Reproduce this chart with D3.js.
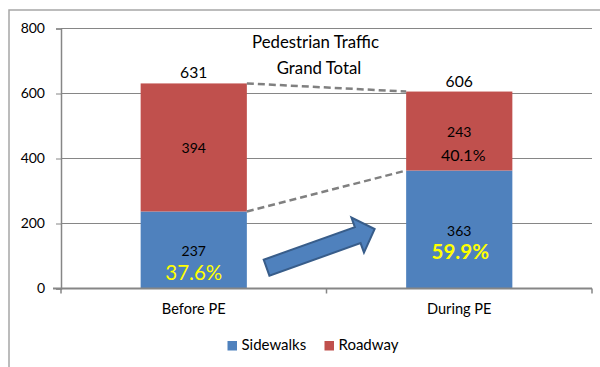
<!DOCTYPE html>
<html>
<head>
<meta charset="utf-8">
<script src="https://cdn.jsdelivr.net/npm/d3@7"></script>
<style>
  html, body { margin: 0; padding: 0; background: #fff; }
  svg { display: block; font-family: Lato, "Open Sans", sans-serif; }
</style>
</head>
<body>
<svg id="chart" width="600" height="367"></svg>
<script>
// Pedestrian counts, before and during PE
const categories = ["Before PE", "During PE"];
const sidewalks = [237, 363];
const roadway = [394, 243];
const seriesNames = ["Sidewalks", "Roadway"];
const seriesColors = ["#4f81bd", "#c0504d"];
const yTicks = [0, 200, 400, 600, 800];
const titleLines = ["Pedestrian Traffic", "Grand Total"];

const totals = categories.map((c, i) => sidewalks[i] + roadway[i]);
const pct = d3.format(".1%");

const svg = d3.select("#chart");

// outer frame
svg.append("path")
  .attr("d", "M9,367 V10 H600")
  .attr("fill", "none")
  .attr("stroke", "#a6a6a6")
  .attr("stroke-width", 1.5);

const plot = { left: 61, right: 592, top: 28.5, bottom: 288.5 };

const x = d3.scaleBand()
  .domain(categories)
  .range([plot.left, plot.right])
  .paddingInner(0.6)
  .paddingOuter(0.3);
const y = d3.scaleLinear().domain([0, 800]).range([plot.bottom, plot.top]);
const bw = x.bandwidth();

// gridlines
svg.append("g")
  .selectAll("line")
  .data(yTicks.filter(t => t > 0))
  .join("line")
  .attr("x1", plot.left).attr("x2", plot.right)
  .attr("y1", d => y(d)).attr("y2", d => y(d))
  .attr("stroke", "#868686")
  .attr("stroke-width", 1);

// y axis
const yAxis = svg.append("g")
  .attr("transform", `translate(${plot.left},0)`)
  .call(d3.axisLeft(y).tickValues(yTicks).tickSize(5).tickPadding(11));
yAxis.select(".domain").attr("stroke", "#868686").attr("stroke-width", 1.5);
yAxis.selectAll(".tick line").attr("stroke", "#868686");
yAxis.selectAll(".tick text")
  .attr("font-family", "Lato, sans-serif")
  .attr("font-size", 14)
  .attr("fill", "#000");

// stacked bars
const stack = d3.stack().keys([0, 1])(categories.map((c, i) => [sidewalks[i], roadway[i]]));
svg.append("g")
  .selectAll("g")
  .data(stack)
  .join("g")
  .attr("fill", (d, i) => seriesColors[i])
  .selectAll("rect")
  .data(d => d)
  .join("rect")
  .attr("x", (d, i) => x(categories[i]))
  .attr("width", bw)
  .attr("y", d => y(d[1]))
  .attr("height", d => y(d[0]) - y(d[1]));

// x axis line and category boundary ticks
const step = x.step();
const bounds = categories.map(c => x(c) - step * x.paddingInner() / 2)
  .concat([x(categories[categories.length - 1]) - step * x.paddingInner() / 2 + step]);
svg.append("line")
  .attr("x1", plot.left - 8).attr("x2", plot.right)
  .attr("y1", plot.bottom).attr("y2", plot.bottom)
  .attr("stroke", "#868686").attr("stroke-width", 2);
svg.append("g").selectAll("line")
  .data(bounds)
  .join("line")
  .attr("x1", d => d).attr("x2", d => d)
  .attr("y1", plot.bottom).attr("y2", plot.bottom + 5)
  .attr("stroke", "#868686").attr("stroke-width", 1.5);

// category labels
svg.append("g").selectAll("text")
  .data(categories)
  .join("text")
  .attr("x", d => x(d) + bw / 2)
  .attr("y", 314.3)
  .attr("text-anchor", "middle")
  .attr("font-size", 14.6)
  .text(d => d);

// dashed connectors between the bars
const dash = svg.append("g")
  .attr("stroke", "#808080")
  .attr("stroke-width", 2.5)
  .attr("stroke-dasharray", "7,4")
  .attr("fill", "none");
dash.append("line")
  .attr("x1", x(categories[0]) + bw).attr("y1", y(totals[0]))
  .attr("x2", x(categories[1])).attr("y2", y(totals[1]));
dash.append("line")
  .attr("x1", x(categories[0]) + bw).attr("y1", y(sidewalks[0]))
  .attr("x2", x(categories[1])).attr("y2", y(sidewalks[1]));

// data labels
const labels = svg.append("g").attr("text-anchor", "middle");
categories.forEach((c, i) => {
  const cx = x(c) + bw / 2;
  const midS = (y(0) + y(sidewalks[i])) / 2;
  const midR = (y(sidewalks[i]) + y(totals[i])) / 2;
  labels.append("text").attr("x", cx).attr("y", y(totals[i]) - 5)
    .attr("font-size", 15.7).text(totals[i]);
  labels.append("text").attr("x", cx).attr("y", midR + 6)
    .attr("font-size", 14).text(roadway[i]);
  labels.append("text").attr("x", cx).attr("y", midS + 6)
    .attr("font-size", 14).text(sidewalks[i]);
});
// share of sidewalk and roadway traffic
labels.append("text")
  .attr("x", x(categories[0]) + bw / 2).attr("y", (y(0) + y(sidewalks[0])) / 2 + 30)
  .attr("font-size", 20.5).attr("fill", "#ffff00")
  .text(pct(sidewalks[0] / totals[0]));
labels.append("text")
  .attr("x", x(categories[1]) + bw / 2 + 1).attr("y", (y(0) + y(sidewalks[1])) / 2 + 29)
  .attr("font-size", 20.6).attr("font-weight", "bold").attr("fill", "#ffff00")
  .text(pct(sidewalks[1] / totals[1]));
labels.append("text")
  .attr("x", x(categories[1]) + bw / 2 + 4).attr("y", (y(sidewalks[1]) + y(totals[1])) / 2 + 30)
  .attr("font-size", 16)
  .text(pct(roadway[1] / totals[1]));

// title
svg.append("g").attr("text-anchor", "middle").attr("font-size", 16.8)
  .selectAll("text")
  .data(titleLines)
  .join("text")
  .attr("x", (d, i) => i === 0 ? 315.5 : 319)
  .attr("y", (d, i) => i === 0 ? 47.7 : 74.3)
  .text(d => d);

// block arrow showing the shift toward sidewalks
const tail = [x(categories[0]) + bw + 19.7, y(64)];
const tip = [x(categories[1]) - 31.5, y(183)];
const len = Math.hypot(tip[0] - tail[0], tip[1] - tail[1]);
const ang = Math.atan2(tip[1] - tail[1], tip[0] - tail[0]) * 180 / Math.PI;
const shaftHalf = 8.5, headHalf = 18.6, headLen = 18;
const arrowPts = [
  [0, -shaftHalf], [len - headLen, -shaftHalf], [len - headLen, -headHalf],
  [len, 0], [len - headLen, headHalf], [len - headLen, shaftHalf], [0, shaftHalf]
];
svg.append("path")
  .attr("transform", `translate(${tail[0]},${tail[1]}) rotate(${ang})`)
  .attr("d", d3.line()(arrowPts) + "Z")
  .attr("fill", "#4f81bd")
  .attr("stroke", "#385d8a")
  .attr("stroke-width", 2)
  .attr("stroke-linejoin", "miter");

// legend
const legendX = [227.5, 324.5];
const legend = svg.append("g").selectAll("g")
  .data(seriesNames)
  .join("g")
  .attr("transform", (d, i) => `translate(${legendX[i]},341)`);
legend.append("rect")
  .attr("width", 9.5).attr("height", 9.5)
  .attr("fill", (d, i) => seriesColors[i]);
legend.append("text")
  .attr("x", 14).attr("y", 9)
  .attr("font-size", 15)
  .text(d => d);
</script>
</body>
</html>
